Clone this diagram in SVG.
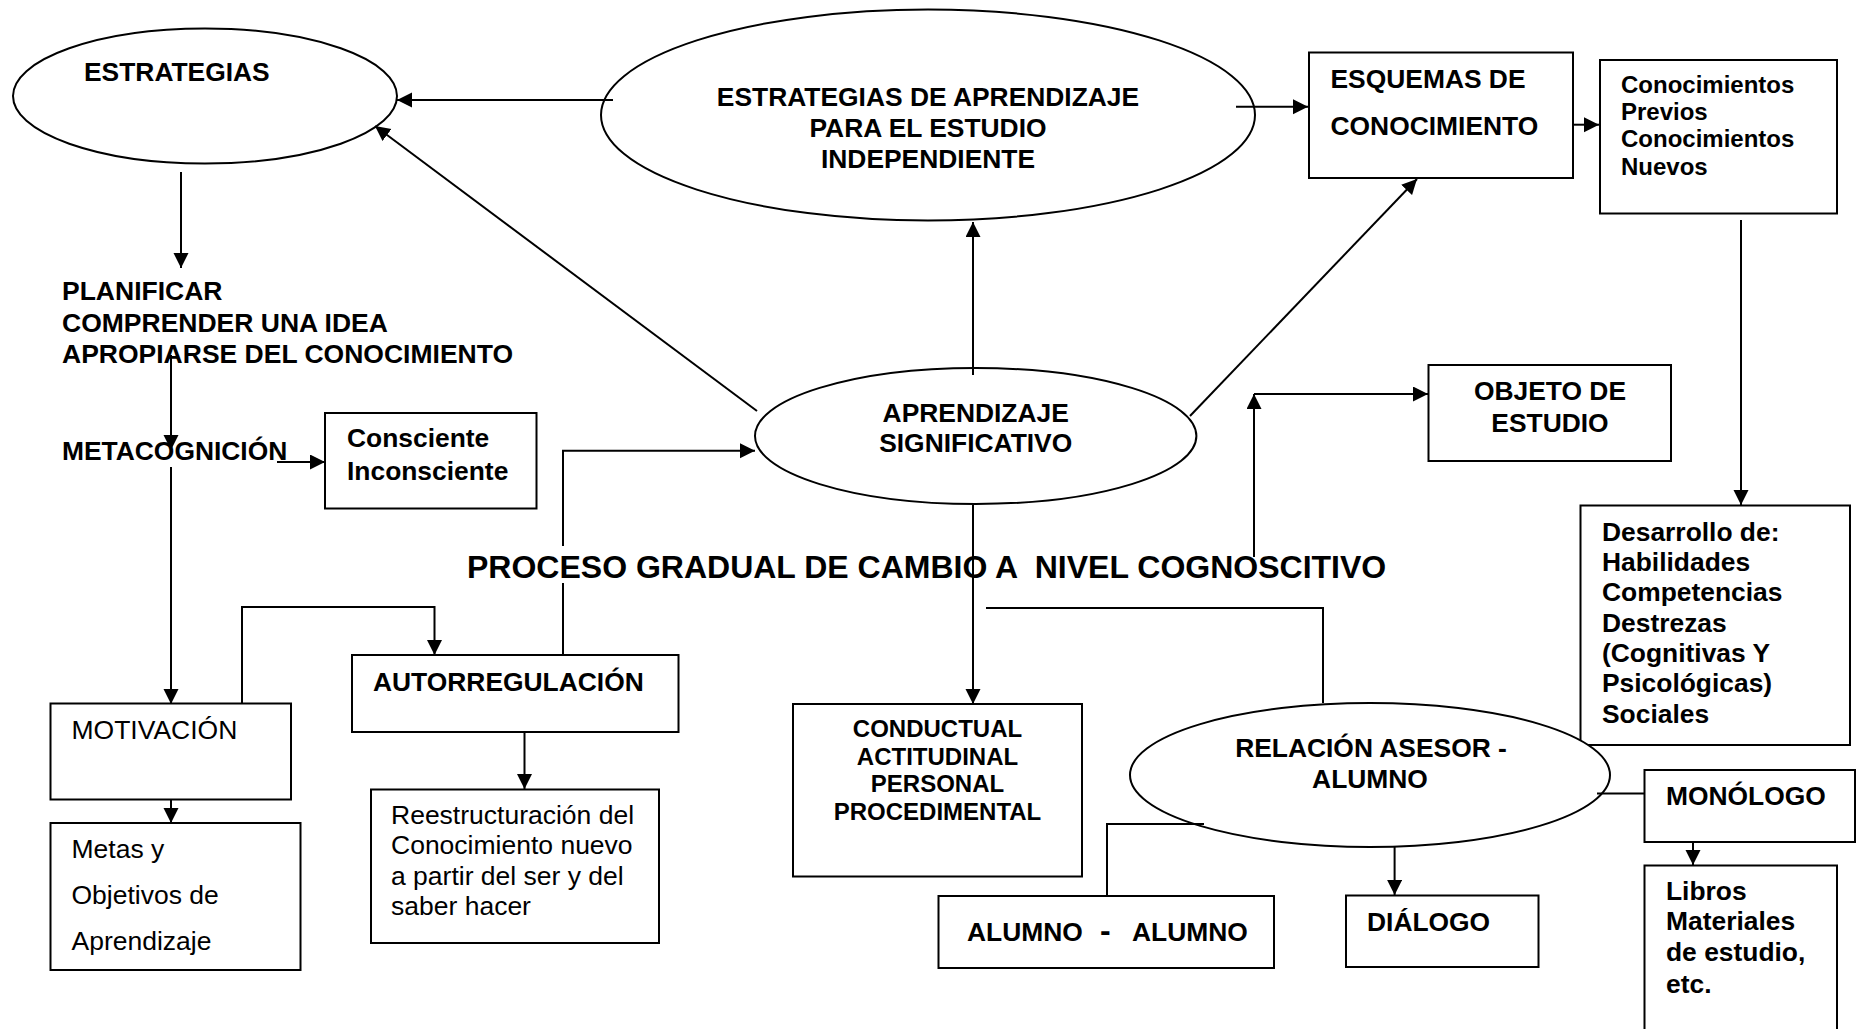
<svg xmlns="http://www.w3.org/2000/svg" width="1862" height="1029" viewBox="0 0 1862 1029">
<style>
.shape{fill:#fff;stroke:#000;stroke-width:2}
.conn{fill:none;stroke:#000;stroke-width:2}
.arr{marker-end:url(#ah)}
text{font-family:"Liberation Sans",Arial,sans-serif;fill:#000}
.b{font-weight:bold;font-size:26.4px}
.s{font-weight:bold;font-size:24px}
.r{font-weight:normal;font-size:26.5px}
.c{text-anchor:middle}
</style>
<defs>
<marker id="ah" markerUnits="userSpaceOnUse" markerWidth="16" markerHeight="16" refX="15" refY="7.5" orient="auto">
<path d="M0,0 L15,7.5 L0,15 Z" fill="#000"/>
</marker>
</defs>
<rect width="1862" height="1029" fill="#fff"/>

<g id="estrategias">
<ellipse class="shape" cx="205" cy="96" rx="192" ry="67.5"/>
<text class="b" x="84" y="81">ESTRATEGIAS</text>
</g>
<g id="estrategias-aprendizaje">
<ellipse class="shape" cx="928" cy="115" rx="327" ry="105.5"/>
<text class="b c" x="928" y="106">ESTRATEGIAS DE APRENDIZAJE</text>
<text class="b c" x="928" y="137">PARA EL ESTUDIO</text>
<text class="b c" x="928" y="168">INDEPENDIENTE</text>
</g>
<g id="esquemas">
<rect class="shape" x="1309" y="52.5" width="264" height="125.5"/>
<text class="b" x="1330.5" y="88">ESQUEMAS DE</text>
<text class="b" x="1330.5" y="134.5">CONOCIMIENTO</text>
</g>
<g id="conocimientos">
<rect class="shape" x="1600" y="60" width="237" height="153.5"/>
<text class="s" x="1621" y="92.5">Conocimientos</text>
<text class="s" x="1621" y="119.5">Previos</text>
<text class="s" x="1621" y="147">Conocimientos</text>
<text class="s" x="1621" y="174.5">Nuevos</text>
</g>
<g id="planificar">
<text class="b" style="font-size:26.5px" x="62" y="300">PLANIFICAR</text>
<text class="b" style="font-size:26.5px" x="62" y="332">COMPRENDER UNA IDEA</text>
<text class="b" style="font-size:26.5px" x="62" y="363">APROPIARSE DEL CONOCIMIENTO</text>
</g>
<g id="metacognicion">
<text class="b" x="62" y="460">METACOGNICIÓN</text>
</g>
<g id="consciente">
<rect class="shape" x="325" y="413" width="211.5" height="95.5"/>
<text class="b" x="347" y="447">Consciente</text>
<text class="b" x="347" y="480">Inconsciente</text>
</g>
<g id="aprendizaje-significativo">
<ellipse class="shape" cx="975.7" cy="436" rx="220.7" ry="68"/>
<text class="b c" x="975.7" y="422">APRENDIZAJE</text>
<text class="b c" x="975.7" y="452">SIGNIFICATIVO</text>
</g>
<g id="objeto">
<rect class="shape" x="1428.5" y="365" width="242.5" height="96"/>
<text class="b c" x="1550" y="400">OBJETO DE</text>
<text class="b c" x="1550" y="432">ESTUDIO</text>
</g>
<g id="desarrollo">
<rect class="shape" x="1580.5" y="505.5" width="269.5" height="239.5"/>
<text class="b" x="1602" y="540.5">Desarrollo de:</text>
<text class="b" x="1602" y="571">Habilidades</text>
<text class="b" x="1602" y="601.3">Competencias</text>
<text class="b" x="1602" y="631.7">Destrezas</text>
<text class="b" x="1602" y="662">(Cognitivas Y</text>
<text class="b" x="1602" y="692.4">Psicológicas)</text>
<text class="b" x="1602" y="722.7">Sociales</text>
</g>
<g id="motivacion">
<rect class="shape" x="50.5" y="703.5" width="240.5" height="96"/>
<text class="r" x="71.5" y="738.5">MOTIVACIÓN</text>
</g>
<g id="metas">
<rect class="shape" x="50.5" y="823" width="250" height="147"/>
<text class="r" x="71.5" y="858">Metas y</text>
<text class="r" x="71.5" y="904">Objetivos de</text>
<text class="r" x="71.5" y="950">Aprendizaje</text>
</g>
<g id="autorregulacion">
<rect class="shape" x="352" y="655" width="326.5" height="77"/>
<text class="b" x="373" y="690.5">AUTORREGULACIÓN</text>
</g>
<g id="reestructuracion">
<rect class="shape" x="371" y="789.5" width="288" height="153.5"/>
<text class="r" x="391" y="824">Reestructuración del</text>
<text class="r" x="391" y="854">Conocimiento nuevo</text>
<text class="r" x="391" y="884.5">a partir del ser y del</text>
<text class="r" x="391" y="915">saber hacer</text>
</g>
<g id="conductual">
<rect class="shape" x="793" y="704" width="289" height="172.5"/>
<text class="s c" x="937.5" y="737">CONDUCTUAL</text>
<text class="s c" x="937.5" y="764.5">ACTITUDINAL</text>
<text class="s c" x="937.5" y="792">PERSONAL</text>
<text class="s c" x="937.5" y="819.5">PROCEDIMENTAL</text>
</g>
<g id="relacion">
<ellipse class="shape" cx="1370" cy="775" rx="240" ry="72"/>
<text class="b c" x="1371" y="757">RELACIÓN ASESOR -</text>
<text class="b c" x="1370" y="788">ALUMNO</text>
</g>
<g id="alumno-alumno">
<rect class="shape" x="938.5" y="896" width="335.5" height="72"/>
<text class="b" x="967" y="941"><tspan>ALUMNO</tspan><tspan x="1100" style="font-size:32px">-</tspan><tspan x="1132">ALUMNO</tspan></text>
</g>
<g id="dialogo">
<rect class="shape" x="1346" y="895.5" width="192.5" height="71.5"/>
<text class="b" x="1367" y="931">DIÁLOGO</text>
</g>
<g id="monologo">
<rect class="shape" x="1644.5" y="770" width="210.5" height="72"/>
<text class="b" x="1666" y="805">MONÓLOGO</text>
</g>
<g id="libros">
<rect class="shape" x="1644.5" y="865.5" width="192.5" height="175"/>
<text class="b" x="1666" y="900">Libros</text>
<text class="b" x="1666" y="930">Materiales</text>
<text class="b" x="1666" y="960.5">de estudio,</text>
<text class="b" x="1666" y="992.5">etc.</text>
</g>
<g id="proceso">
<text class="b" style="font-size:32px" xml:space="preserve" x="467" y="577.5">PROCESO GRADUAL DE CAMBIO A  NIVEL COGNOSCITIVO</text>
</g>

<g id="connectors">
<path class="conn arr" d="M613,100 H397"/>
<path class="conn arr" d="M1236,106.7 H1308"/>
<path class="conn arr" d="M1573,124.7 H1599"/>
<path class="conn arr" d="M1741,220 V505"/>
<path class="conn arr" d="M973,375 V222"/>
<path class="conn arr" d="M757,411 L375,126"/>
<path class="conn arr" d="M1190,416 L1417,179"/>
<path class="conn arr" d="M181,172 V268"/>
<path class="conn arr" d="M171,355 V450"/>
<path class="conn arr" d="M171,467 V704"/>
<path class="conn arr" d="M277,462 H325"/>
<path class="conn arr" d="M171,800 V823"/>
<path class="conn arr" d="M242,704 V607 H434.5 V655"/>
<path class="conn arr" d="M563,655 V583 M563,546 V450.7 H755"/>
<path class="conn arr" d="M524.5,732 V789"/>
<path class="conn arr" d="M973,505 V704"/>
<path class="conn" d="M986,608 H1323 V703"/>
<path class="conn arr" d="M1254,557 V394"/>
<path class="conn arr" d="M1254,394 H1428"/>
<path class="conn" d="M1204,824 H1107 V896"/>
<path class="conn arr" d="M1394.6,847 V895"/>
<path class="conn" d="M1597,793.5 H1645"/>
<path class="conn arr" d="M1693,842 V865"/>
</g>
</svg>
